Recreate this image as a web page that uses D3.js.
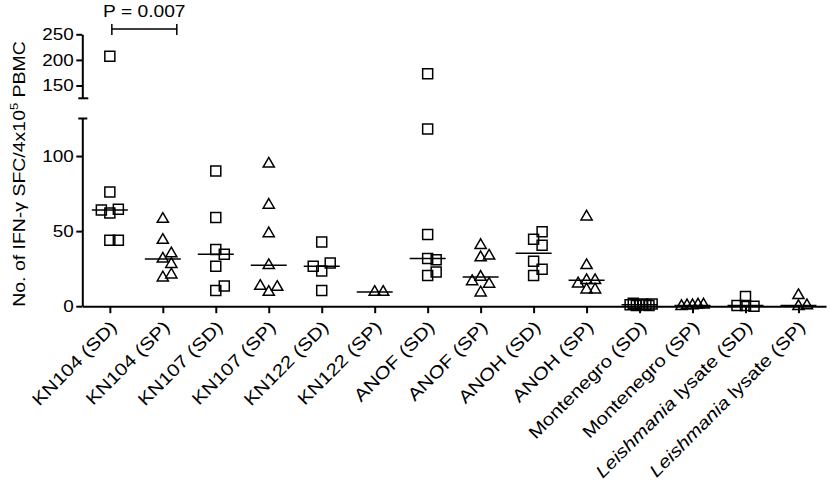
<!DOCTYPE html>
<html>
<head>
<meta charset="utf-8">
<script src="https://cdn.jsdelivr.net/npm/d3@7"></script>
<style>
  body { margin: 0; background: #fff; }
  text { font-family: "Liberation Sans", Arial, sans-serif; fill: #000; }
</style>
</head>
<body>
<div id="chart"></div>
<script>
// groups on the x axis
const categories = [
  "KN104 (SD)", "KN104 (SP)", "KN107 (SD)", "KN107 (SP)", "KN122 (SD)", "KN122 (SP)",
  "ANOF (SD)", "ANOF (SP)", "ANOH (SD)", "ANOH (SP)", "Montenegro (SD)", "Montenegro (SP)",
  "Leishmania lysate (SD)", "Leishmania lysate (SP)"
];

// IFN-gamma SFC per group (one value per donor)
const kn104SD = [207, 76, 62, 64.5, 64, 44, 44];
const kn104SP = [58, 44, 31.5, 35, 28, 19, 21];
const kn107SD = [90, 59, 37.7, 34.6, 26.6, 10.5, 13.4];
const kn107SP = [94.8, 67.4, 48.4, 27.2, 9.4, 12.7, 13.4];
const kn122SD = [42.8, 23.4, 28.8, 26.6, 10.5];
const kn122SP = [9.4, 9.4];
const anofSD = [173, 118, 47.8, 31.7, 31, 20.5, 22.8];
const anofSP = [40.6, 32.4, 33.5, 9, 14.8, 19.4, 16.5];
const anohSD = [44.6, 40.6, 49.5, 29.9, 24.6, 20.5];
const anohSP = [59.6, 27.2, 11, 11, 15, 17.2, 17.2];
const montSD = [1, 1.5, 0.5, 1, 2, 0.5, 1, 1.5];
const montSP = [0.5, 1, 0.5, 1, 0];
const leishSD = [0.5, 0, 6.5, 0.5];
const leishSP = [7.2, 0, 0.5];

const groupValues = [kn104SD, kn104SP, kn107SD, kn107SP, kn122SD, kn122SP,
  anofSD, anofSP, anohSD, anohSP, montSD, montSP, leishSD, leishSP];

const lowTicks = [0, 50, 100];
const highTicks = [150, 200, 250];
const axisBreak = 125;
const pLabel = "P = 0.007";

const width = 830, height = 487;
const stretch = 1.18; // glyphs in the figure are wider than Arial

const svg = d3.select("#chart").append("svg")
  .attr("width", width)
  .attr("height", height);

const x = d3.scalePoint().domain(categories).range([82.3, 826]).padding(0.52);
const yLow = d3.scaleLinear().domain([0, axisBreak]).range([306.2, 118.5]);
const yHigh = d3.scaleLinear().domain([axisBreak, 250]).range([98.3, 34.3]);
const yPos = v => v > axisBreak ? yHigh(v) : yLow(v);

const axisX = x.range()[0];

// lower y segment
const gLow = svg.append("g")
  .attr("transform", `translate(${axisX},0)`)
  .call(d3.axisLeft(yLow).tickValues(lowTicks).tickSize(6).tickSizeOuter(0));

// upper y segment
const gHigh = svg.append("g")
  .attr("transform", `translate(${axisX},0)`)
  .call(d3.axisLeft(yHigh).tickValues(highTicks).tickSize(6).tickSizeOuter(0));

[gLow, gHigh].forEach(g => {
  g.select(".domain").attr("stroke-width", 2);
  g.selectAll(".tick line").attr("stroke-width", 2);
  g.selectAll(".tick text")
    .attr("x", -8.5 / stretch)
    .attr("transform", `scale(${stretch},1)`)
    .style("font-size", "16px")
    .style("font-family", '"Liberation Sans", Arial, sans-serif');
});

// caps at the break
svg.append("line")
  .attr("x1", axisX - 4).attr("x2", axisX + 5)
  .attr("y1", yLow(axisBreak)).attr("y2", yLow(axisBreak))
  .attr("stroke", "#000").attr("stroke-width", 2);
svg.append("line")
  .attr("x1", axisX - 4).attr("x2", axisX + 6)
  .attr("y1", yHigh(axisBreak)).attr("y2", yHigh(axisBreak))
  .attr("stroke", "#000").attr("stroke-width", 2);

// x axis
const gx = svg.append("g")
  .attr("transform", `translate(0,${yLow(0)})`)
  .call(d3.axisBottom(x).tickSize(7).tickSizeOuter(0).tickFormat(""));
gx.select(".domain").attr("stroke-width", 2);
gx.selectAll(".tick line").attr("stroke-width", 2);

// rotated category labels
categories.forEach(c => {
  const t = svg.append("text")
    .attr("transform", `translate(${x(c) + 8},${yLow(0) + 22}) rotate(-45) scale(${stretch},1)`)
    .attr("text-anchor", "end")
    .style("font-size", "17.5px");
  if (c.startsWith("Leishmania")) {
    t.append("tspan").style("font-style", "italic").text("Leishmania");
    t.append("tspan").text(c.slice("Leishmania".length));
  } else {
    t.text(c);
  }
});

// y axis title
const title = svg.append("text")
  .attr("transform", `translate(25,174) rotate(-90) scale(${stretch},1)`)
  .attr("text-anchor", "middle")
  .style("font-size", "16.5px");
title.append("tspan").text("No. of IFN-\u03b3 SFC/4x10");
title.append("tspan").attr("dy", -7).style("font-size", "11px").text("5");
title.append("tspan").attr("dy", 7).text(" PBMC");

// spread overlapping points sideways, GraphPad style
function spread(values, step, gap, maxSpan) {
  const order = [0, 1, -1, 2, -2, 3, -3, 4, -4, 5, -5, 6, -6];
  const placed = [];
  values.forEach(v => {
    const py = yPos(v);
    const k = order.find(s => !placed.some(p => p.k === s && Math.abs(p.py - py) < gap));
    placed.push({ v, py, k });
  });
  const lo = d3.min(placed, p => p.k), hi = d3.max(placed, p => p.k);
  const s = (hi - lo) * step > maxSpan ? maxSpan / (hi - lo) : step;
  return placed.map(p => ({ ...p, dx: p.k * s }));
}

const square = d3.symbol().type(d3.symbolSquare).size(100);
const triangle = d3.symbol().type(d3.symbolTriangle).size(54);

categories.forEach((c, i) => {
  const vals = groupValues[i];
  const pts = spread(vals, 8.5, 9, 22);
  const sym = c.includes("(SD)") ? square : triangle;

  svg.append("g").selectAll("path")
    .data(pts)
    .join("path")
    .attr("d", sym)
    .attr("transform", d => `translate(${x(c) + d.dx},${d.py})`)
    .attr("fill", "none")
    .attr("stroke", "#000")
    .attr("stroke-width", 1.5);

  const med = d3.median(vals);
  svg.append("line")
    .attr("x1", x(c) - 18).attr("x2", x(c) + 18)
    .attr("y1", yPos(med)).attr("y2", yPos(med))
    .attr("stroke", "#000")
    .attr("stroke-width", 1.5);
});

// significance bracket between the two KN104 groups
const bx0 = x(categories[0]) + 2, bx1 = x(categories[1]) + 14, by = 29;
svg.append("path")
  .attr("d", `M${bx0},${by - 5}V${by + 6}M${bx0},${by}H${bx1}M${bx1},${by - 5}V${by + 6}`)
  .attr("fill", "none")
  .attr("stroke", "#000")
  .attr("stroke-width", 1.5);
svg.append("text")
  .attr("transform", `translate(${(bx0 + bx1) / 2},17) scale(${stretch},1)`)
  .attr("text-anchor", "middle")
  .style("font-size", "16.3px")
  .text(pLabel);
</script>
</body>
</html>
